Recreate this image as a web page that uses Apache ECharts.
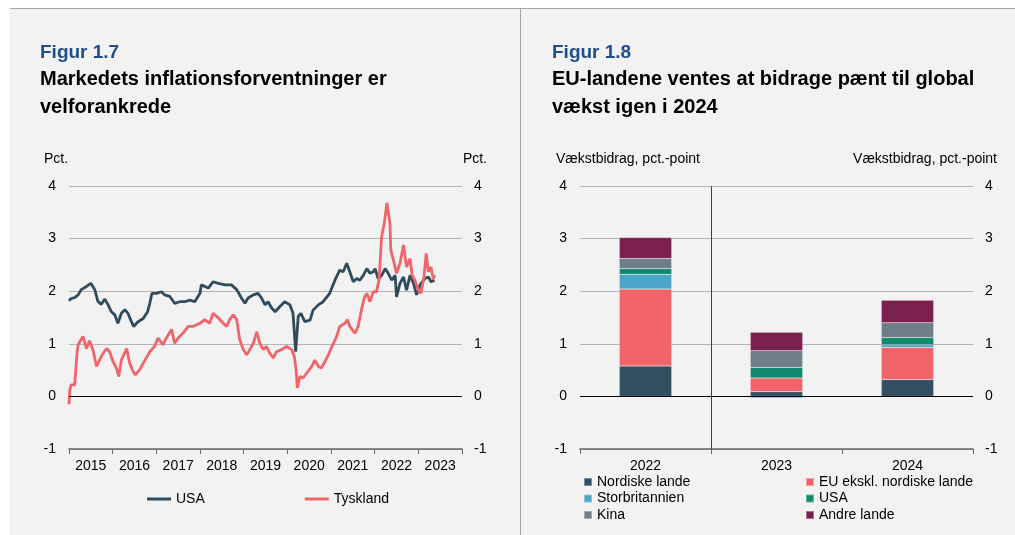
<!DOCTYPE html>
<html>
<head>
<meta charset="utf-8" />
<title>Figur 1.7 og 1.8</title>
<style type="text/css">
body{margin:0;background:#fff;}
#panel{position:absolute;left:10px;top:8px;width:1005px;height:527px;background:#f2f2f2;border-top:1px solid #a6a6a6;}
#divider{position:absolute;left:520px;top:8px;width:1px;height:527px;background:#a6a6a6;}
#left{position:absolute;left:0;top:0;width:520px;height:535px;}
#right{position:absolute;left:521px;top:0;width:494px;height:535px;}
</style>
<script src="https://cdn.jsdelivr.net/npm/echarts@6/dist/echarts.min.js" type="text/javascript" charset="utf-8"></script>
</head>
<body>
<div id="panel"></div>
<div id="divider"></div>
<div id="left"></div>
<div id="right"></div>
<script type="text/javascript">
// Figur 1.7 - inflationsforventninger, [år, pct.]
var yearLabels = ['2015','2016','2017','2018','2019','2020','2021','2022','2023'];
var usaPoints = [
 [2015.00,1.82],[2015.05,1.86],[2015.13,1.88],[2015.21,1.93],[2015.28,2.03],[2015.40,2.09],[2015.50,2.15],
 [2015.59,2.03],[2015.66,1.81],[2015.74,1.75],[2015.82,1.85],[2015.89,1.75],[2015.97,1.61],[2016.05,1.55],
 [2016.12,1.39],[2016.20,1.58],[2016.28,1.65],[2016.35,1.58],[2016.43,1.42],[2016.48,1.33],[2016.58,1.42],
 [2016.70,1.48],[2016.80,1.61],[2016.85,1.77],[2016.90,1.96],[2017.00,1.96],[2017.12,1.99],[2017.19,1.93],
 [2017.31,1.90],[2017.42,1.77],[2017.54,1.80],[2017.65,1.80],[2017.77,1.83],[2017.88,1.80],[2018.00,1.96],
 [2018.03,2.12],[2018.19,2.06],[2018.30,2.18],[2018.42,2.15],[2018.57,2.12],[2018.72,2.12],[2018.84,2.03],
 [2018.95,1.87],[2019.03,1.77],[2019.10,1.87],[2019.22,1.93],[2019.33,1.96],[2019.41,1.87],[2019.49,1.74],
 [2019.56,1.80],[2019.64,1.68],[2019.72,1.61],[2019.83,1.71],[2019.94,1.80],[2020.06,1.74],[2020.13,1.58],
 [2020.19,0.85],[2020.25,1.52],[2020.31,1.58],[2020.40,1.42],[2020.52,1.45],[2020.59,1.64],[2020.71,1.74],
 [2020.82,1.80],[2020.97,1.96],[2021.09,2.21],[2021.20,2.40],[2021.28,2.37],[2021.36,2.53],[2021.43,2.37],
 [2021.51,2.18],[2021.59,2.24],[2021.66,2.21],[2021.74,2.30],[2021.82,2.43],[2021.89,2.34],[2021.97,2.37],
 [2022.01,2.43],[2022.08,2.24],[2022.16,2.30],[2022.24,2.43],[2022.31,2.34],[2022.39,2.21],[2022.47,2.30],
 [2022.50,1.89],[2022.58,2.15],[2022.66,2.27],[2022.73,2.02],[2022.81,2.30],[2022.89,2.15],[2022.96,1.93],
 [2023.04,2.12],[2023.15,2.24],[2023.23,2.27],[2023.29,2.18],[2023.37,2.21]
];
var tysklandPoints = [
 [2015.00,-0.15],[2015.02,0.13],[2015.05,0.22],[2015.13,0.22],[2015.19,0.89],[2015.22,1.00],[2015.32,1.14],
 [2015.40,0.91],[2015.47,1.06],[2015.55,0.88],[2015.63,0.57],[2015.70,0.69],[2015.78,0.82],[2015.86,0.91],
 [2015.93,0.85],[2016.01,0.66],[2016.09,0.53],[2016.14,0.38],[2016.20,0.69],[2016.32,0.91],[2016.39,0.63],
 [2016.47,0.47],[2016.52,0.41],[2016.62,0.51],[2016.74,0.69],[2016.85,0.85],[2016.96,0.95],[2017.04,1.11],
 [2017.15,0.98],[2017.23,1.11],[2017.35,1.27],[2017.42,1.01],[2017.50,1.11],[2017.61,1.20],[2017.73,1.33],
 [2017.84,1.33],[2017.88,1.30],[2018.00,1.39],[2018.11,1.46],[2018.22,1.39],[2018.30,1.58],[2018.42,1.49],
 [2018.53,1.39],[2018.61,1.33],[2018.68,1.46],[2018.76,1.55],[2018.84,1.46],[2018.91,1.08],[2018.99,0.89],
 [2019.07,0.79],[2019.14,0.89],[2019.22,1.01],[2019.30,1.23],[2019.37,1.01],[2019.45,0.89],[2019.52,0.95],
 [2019.60,0.82],[2019.68,0.73],[2019.75,0.85],[2019.87,0.89],[2019.98,0.95],[2020.10,0.89],[2020.16,0.76],
 [2020.20,0.51],[2020.23,0.16],[2020.29,0.38],[2020.36,0.35],[2020.44,0.44],[2020.56,0.57],[2020.63,0.69],
 [2020.71,0.57],[2020.78,0.54],[2020.86,0.66],[2020.94,0.79],[2020.97,0.85],[2021.05,1.00],[2021.13,1.14],
 [2021.20,1.33],[2021.32,1.39],[2021.38,1.46],[2021.43,1.33],[2021.55,1.20],[2021.62,1.33],[2021.70,1.65],
 [2021.76,1.87],[2021.82,1.96],[2021.89,1.80],[2021.97,1.99],[2022.04,1.99],[2022.10,2.21],[2022.16,3.04],
 [2022.22,3.29],[2022.28,3.68],[2022.31,3.71],[2022.35,3.29],[2022.37,2.78],[2022.43,2.59],[2022.50,2.34],
 [2022.58,2.53],[2022.66,2.88],[2022.73,2.46],[2022.81,2.62],[2022.86,2.30],[2022.92,2.21],[2023.00,2.02],
 [2023.06,1.96],[2023.13,2.27],[2023.18,2.72],[2023.23,2.37],[2023.29,2.46],[2023.34,2.24],[2023.38,2.30]
];

// Figur 1.8 - vækstbidrag, pct.-point
var barYears = ['2022','2023','2024'];
var nordiske = [0.58, 0.09, 0.32];
var euEkskl = [1.46, 0.26, 0.61];
var storbritannien = [0.28, -0.03, 0.05];
var usaBidrag = [0.11, 0.20, 0.14];
var kina = [0.19, 0.32, 0.28];
var andre = [0.40, 0.35, 0.43];

var FONT = "'Liberation Sans', Arial, sans-serif";
var BLUE = '#1f4e8c';

function txt(t, x, y, size, bold, color, align){
	return {type:'text', silent:true, style:{text:t, x:x, y:y, fill:color || '#000',
		font:(bold ? 'bold ' : '') + size + 'px ' + FONT, textAlign:align || 'left', textVerticalAlign:'middle'}};
}

var leftChart = echarts.init(document.getElementById('left'));
leftChart.setOption({
	animation:false,
	textStyle:{fontFamily:FONT},
	graphic:[
		txt('Figur 1.7', 40, 53, 19, true, BLUE),
		txt('Markedets inflationsforventninger er', 40, 79, 20, true),
		txt('velforankrede', 40, 107, 20, true),
		txt('Pct.', 44, 159, 14, false),
		txt('Pct.', 487, 159, 14, false, '#000', 'right')
	],
	grid:{left:69, top:186, width:393, height:263},
	legend:{
		left:142, top:487, icon:'rect', itemWidth:24, itemHeight:3, itemGap:100,
		textStyle:{fontSize:14, color:'#000'},
		data:['USA','Tyskland']
	},
	xAxis:[
		{type:'value', min:2015, max:2024, interval:1,
			axisLine:{onZero:false, lineStyle:{color:'#666', width:1.5}},
			axisTick:{show:true, length:5, lineStyle:{color:'#666'}},
			axisLabel:{show:false}, splitLine:{show:false}},
		{type:'category', data:yearLabels, position:'bottom',
			axisLine:{show:false}, axisTick:{show:false},
			axisLabel:{fontSize:14, color:'#000', margin:10}, splitLine:{show:false}}
	],
	yAxis:[
		{type:'value', min:-1, max:4, interval:1, position:'left',
			axisLine:{show:false}, axisTick:{show:false},
			axisLabel:{fontSize:14, color:'#000', margin:13},
			splitLine:{lineStyle:{color:'#b4b4b4', width:1}}},
		{type:'value', min:-1, max:4, interval:1, position:'right',
			axisLine:{show:false}, axisTick:{show:false},
			axisLabel:{fontSize:14, color:'#000', margin:12},
			splitLine:{show:false}}
	],
	series:[
		{name:'USA', type:'line', xAxisIndex:0, yAxisIndex:0, data:usaPoints, showSymbol:false,
			color:'#2f4b5c', lineStyle:{width:2.8},
			markLine:{silent:true, symbol:'none', label:{show:false},
				lineStyle:{color:'#000', width:1, type:'solid'}, data:[{yAxis:0}]}},
		{name:'Tyskland', type:'line', xAxisIndex:0, yAxisIndex:0, data:tysklandPoints, showSymbol:false,
			color:'#f0646a', lineStyle:{width:2.8}}
	]
});

var rightChart = echarts.init(document.getElementById('right'));
function barSeries(name, data, color){
	return {name:name, type:'bar', stack:'bidrag', barWidth:'40%', data:data,
		xAxisIndex:0, yAxisIndex:0,
		itemStyle:{color:color, borderColor:'rgba(255,255,255,0.35)', borderWidth:0.5}};
}
var bars = [
	barSeries('Nordiske lande', nordiske, '#335063'),
	barSeries('EU ekskl. nordiske lande', euEkskl, '#f0646a'),
	barSeries('Storbritannien', storbritannien, '#4ba5c8'),
	barSeries('USA', usaBidrag, '#0f8a6e'),
	barSeries('Kina', kina, '#6f7d88'),
	barSeries('Andre lande', andre, '#7b2150')
];
bars[0].markLine = {silent:true, symbol:'none', label:{show:false},
	lineStyle:{color:'#000', width:1, type:'solid'}, data:[{yAxis:0}]};
// skillelinje mellem 2022 og prognoseårene, på en skjult akse 0-3
bars.push({type:'line', xAxisIndex:1, yAxisIndex:0, data:[], silent:true,
	markLine:{silent:true, symbol:'none', label:{show:false},
		lineStyle:{color:'#404040', width:1, type:'solid'}, data:[{xAxis:1}]}});

var legendBase = {orient:'vertical', top:470, icon:'rect', itemWidth:8, itemHeight:8, itemGap:2.5,
	textStyle:{fontSize:14, color:'#000', lineHeight:14}};
rightChart.setOption({
	animation:false,
	textStyle:{fontFamily:FONT},
	graphic:[
		txt('Figur 1.8', 31, 53, 19, true, BLUE),
		txt('EU-landene ventes at bidrage pænt til global', 31, 79, 20, true),
		txt('vækst igen i 2024', 31, 107, 20, true),
		txt('Vækstbidrag, pct.-point', 35, 159, 14, false),
		txt('Vækstbidrag, pct.-point', 476, 159, 14, false, '#000', 'right')
	],
	grid:{left:59, top:186, width:393, height:263},
	legend:[
		Object.assign({}, legendBase, {left:57, data:['Nordiske lande','Storbritannien','Kina']}),
		Object.assign({}, legendBase, {left:279, data:['EU ekskl. nordiske lande','USA','Andre lande']})
	],
	xAxis:[
		{type:'category', data:barYears,
			axisLine:{onZero:false, lineStyle:{color:'#666', width:1.5}},
			axisTick:{show:true, length:5, lineStyle:{color:'#666'}},
			axisLabel:{fontSize:14, color:'#000', margin:10},
			splitLine:{show:false}},
		{type:'value', min:0, max:3, position:'bottom', show:false}
	],
	yAxis:[
		{type:'value', min:-1, max:4, interval:1, position:'left',
			axisLine:{show:false}, axisTick:{show:false},
			axisLabel:{fontSize:14, color:'#000', margin:13},
			splitLine:{lineStyle:{color:'#b4b4b4', width:1}}},
		{type:'value', min:-1, max:4, interval:1, position:'right',
			axisLine:{show:false}, axisTick:{show:false},
			axisLabel:{fontSize:14, color:'#000', margin:12},
			splitLine:{show:false}}
	],
	series:bars
});
</script>
</body>
</html>
